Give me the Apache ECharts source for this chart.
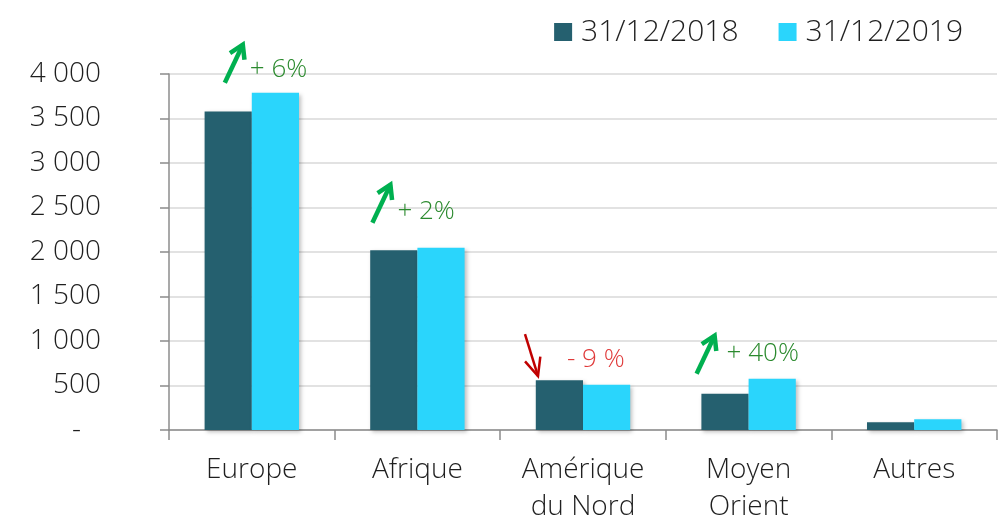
<!DOCTYPE html>
<html>
<head>
<meta charset="utf-8">
<script src="https://cdn.jsdelivr.net/npm/echarts@6/dist/echarts.min.js"></script>
<style>
  html, body { margin: 0; background: #fff; }
  #chart { width: 1004px; height: 526px; }
</style>
</head>
<body>
<div id="chart"></div>
<script>
const categories = ['Europe', 'Afrique', 'Amérique\ndu Nord', 'Moyen\nOrient', 'Autres']
const seriesNames = ['31/12/2018', '31/12/2019']
const values2018 = [3580, 2020, 560, 408, 86]
const values2019 = [3790, 2048, 508, 576, 122]
const changeLabels = ['+ 6%', '+ 2%', '- 9 %', '+ 40%', '']
const changeUp = [true, true, false, true, true]

// pixel offsets of arrows/texts from the category centre and the top of the taller bar
const notePos = [
  { tail: [-27, -10], tip: [-9, -48], text: [-2, -23] },
  { tail: [-45, -25], tip: [-27, -63], text: [-20, -36] },
  { tail: [-58, -46], tip: [-45, -4], text: [-16, -21] },
  { tail: [-52, -5], tip: [-34, -43], text: [-22, -25] },
]

const FONT = 'Open Sans'
const TEXT = '#1f1f1f'
const GREEN_ARROW = '#00b050'
const RED_ARROW = '#c00000'
const GREEN_TEXT = '#2b8a2e'
const RED_TEXT = '#e03a3a'

const chart = echarts.init(document.getElementById('chart'))

function fmtY(v) {
  if (v === 0) return '{z|-}'
  if (v < 1000) return String(v)
  return Math.floor(v / 1000) + ' ' + String(v % 1000).padStart(3, '0')
}

const barStyle = (color) => ({
  color,
  shadowColor: 'rgba(0, 0, 0, 0.25)',
  shadowBlur: 4,
  shadowOffsetX: 2,
  shadowOffsetY: 2,
})

chart.setOption({
  animation: false,
  backgroundColor: '#fff',
  textStyle: { fontFamily: FONT },
  legend: {
    top: 12,
    right: 36,
    itemWidth: 18,
    itemHeight: 18,
    itemGap: 40,
    icon: 'rect',
    textStyle: { fontSize: 30, fontWeight: 300, color: TEXT, fontFamily: FONT, padding: [0, 0, 0, 4] },
    data: seriesNames,
  },
  grid: { left: 169, right: 7, top: 74, bottom: 95, containLabel: false },
  xAxis: {
    type: 'category',
    data: categories,
    axisLine: { lineStyle: { color: '#8c8c8c', width: 1.5 } },
    axisTick: { show: true, length: 10, lineStyle: { color: '#8c8c8c', width: 1.5 } },
    axisLabel: {
      color: TEXT,
      fontSize: 28,
      fontWeight: 300,
      fontFamily: FONT,
      lineHeight: 37,
      margin: 22,
      interval: 0,
    },
  },
  yAxis: {
    type: 'value',
    min: 0,
    max: 4000,
    interval: 500,
    axisLine: { show: true, lineStyle: { color: '#8c8c8c', width: 1.5 } },
    axisTick: { show: true, length: 9, lineStyle: { color: '#8c8c8c', width: 1.5 } },
    splitLine: { lineStyle: { color: '#d9d9d9', width: 1.5 } },
    axisLabel: {
      color: TEXT,
      fontSize: 28,
      fontWeight: 300,
      fontFamily: FONT,
      margin: 68,
      formatter: fmtY,
      rich: { z: { fontSize: 28, fontWeight: 300, color: TEXT, padding: [0, 20, 0, 0] } },
    },
  },
  series: [
    {
      name: seriesNames[0],
      type: 'bar',
      data: values2018,
      barGap: '0%',
      barCategoryGap: '43%',
      itemStyle: barStyle('#25606f'),
    },
    {
      name: seriesNames[1],
      type: 'bar',
      data: values2019,
      barGap: '0%',
      barCategoryGap: '43%',
      itemStyle: barStyle('#2ad5fc'),
    },
  ],
})

function arrow(tail, tip, color, width, back, half) {
  const dx = tip[0] - tail[0]
  const dy = tip[1] - tail[1]
  const len = Math.hypot(dx, dy)
  const ux = dx / len
  const uy = dy / len
  const px = -uy
  const py = ux
  const l = [tip[0] - ux * back + px * half, tip[1] - uy * back + py * half]
  const r = [tip[0] - ux * back - px * half, tip[1] - uy * back - py * half]
  const style = { stroke: color, lineWidth: width, fill: null, lineJoin: 'miter', lineCap: 'butt' }
  return [
    { type: 'polyline', silent: true, shape: { points: [tail, tip] }, style },
    { type: 'polyline', silent: true, shape: { points: [l, tip, r] }, style },
  ]
}

function drawNotes() {
  const els = []
  notePos.forEach((p, i) => {
    if (!changeLabels[i]) return
    const top = Math.max(values2018[i], values2019[i])
    const [cx, cy] = chart.convertToPixel({ gridIndex: 0 }, [i, top])
    const up = changeUp[i]
    const tail = [cx + p.tail[0], cy + p.tail[1]]
    const tip = [cx + p.tip[0], cy + p.tip[1]]
    if (up) els.push(...arrow(tail, tip, GREEN_ARROW, 4.5, 13, 8))
    else els.push(...arrow(tail, tip, RED_ARROW, 2.5, 18, 8))
    els.push({
      type: 'text',
      silent: true,
      x: cx + p.text[0],
      y: cy + p.text[1],
      style: {
        text: changeLabels[i],
        fill: up ? GREEN_TEXT : RED_TEXT,
        fontSize: 26,
        fontWeight: 300,
        fontFamily: FONT,
        align: 'left',
        verticalAlign: 'middle',
      },
    })
  })
  chart.setOption({ graphic: { elements: els } })
}

drawNotes()
</script>
</body>
</html>
